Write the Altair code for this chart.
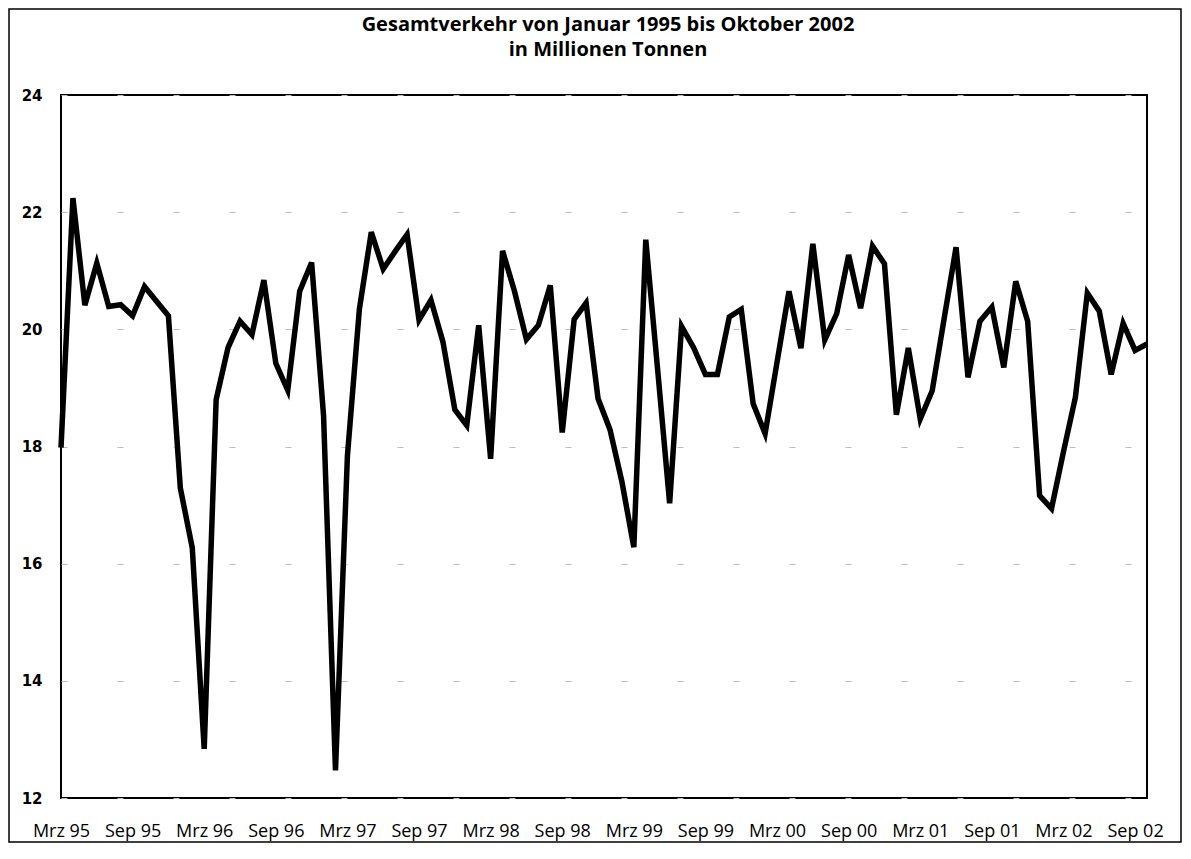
import altair as alt
import pandas as pd

# Monthly values (million tonnes), March 1995 .. October 2002
values = [17.98, 22.24, 20.41, 21.13, 20.39, 20.42, 20.23, 20.73, 20.48, 20.23,
          17.29, 16.27, 12.84, 18.80, 19.69, 20.14, 19.91, 20.84, 19.42, 18.96,
          20.65, 21.14, 18.53, 12.47, 17.84, 20.34, 21.66, 21.03, 21.33, 21.62,
          20.16, 20.50, 19.79, 18.63, 18.36, 20.07, 17.79, 21.34, 20.65, 19.83,
          20.07, 20.75, 18.24, 20.17, 20.45, 18.82, 18.29, 17.40, 16.28, 21.53,
          19.30, 17.03, 20.05, 19.69, 19.23, 19.23, 20.21, 20.34, 18.73, 18.22,
          19.44, 20.65, 19.68, 21.46, 19.82, 20.27, 21.27, 20.36, 21.42, 21.12,
          18.54, 19.68, 18.47, 18.95, 20.18, 21.40, 19.18, 20.14, 20.38, 19.35,
          20.82, 20.14, 17.16, 16.94, 17.91, 18.84, 20.62, 20.31, 19.23, 20.10,
          19.64, 19.75]

tick_labels = ["Mrz 95", "Sep 95", "Mrz 96", "Sep 96", "Mrz 97", "Sep 97",
               "Mrz 98", "Sep 98", "Mrz 99", "Sep 99", "Mrz 00", "Sep 00",
               "Mrz 01", "Sep 01", "Mrz 02", "Sep 02"]
y_ticks = [12, 14, 16, 18, 20, 22, 24]

title_lines = ["Gesamtverkehr von Januar 1995 bis Oktober 2002", "in Millionen Tonnen"]

df = pd.DataFrame({"idx": list(range(len(values))), "wert": values})
tick_pos = [i * 6 for i in range(len(tick_labels))]
label_expr = "[" + ",".join("'%s'" % t for t in tick_labels) + "][round(datum.value / 6)]"

W, H = 1086, 703

line = alt.Chart(df).mark_line(color="black", strokeWidth=5.5, strokeJoin="miter").encode(
    x=alt.X("idx:Q",
            scale=alt.Scale(domain=[0, len(values) - 1], nice=False, zero=False),
            axis=alt.Axis(values=tick_pos, labelExpr=label_expr, title=None,
                          grid=False, ticks=False, domain=False,
                          labelFont="Open Sans", labelFontSize=18, labelColor="black",
                          labelPadding=24, labelOverlap=False, labelFlush=False)),
    y=alt.Y("wert:Q",
            scale=alt.Scale(domain=[12, 24], nice=False, zero=False),
            axis=alt.Axis(values=y_ticks, title=None, ticks=False, domain=False,
                          grid=True, gridColor="#bdbdbd", gridDash=[6, 50], gridWidth=1,
                          labelFont="DejaVu Sans", labelFontSize=15, labelFontWeight="bold",
                          labelColor="black", labelPadding=19)),
)

frame = alt.Chart(pd.DataFrame({"a": [0]})).mark_rect(
    fill=None, stroke="black", strokeWidth=1.5
).encode(
    x=alt.value(-52), x2=alt.value(1120),
    y=alt.value(-86), y2=alt.value(747),
)

title_layers = []
for line_text, ypos in zip(title_lines, [-70, -45]):
    title_layers.append(
        alt.Chart(pd.DataFrame({"t": [line_text]})).mark_text(
            font="Open Sans", fontSize=20, fontWeight="bold", color="black",
            align="center", baseline="middle"
        ).encode(text="t:N", x=alt.value(W / 2 + 4), y=alt.value(ypos))
    )

chart = alt.layer(frame, line, *title_layers).properties(
    width=W, height=H,
    autosize=alt.AutoSizeParams(type="none"),
    padding={"left": 53, "top": 87, "right": 35, "bottom": 50},
).configure(background="white").configure_view(stroke="black", strokeWidth=2)

chart.save("out.html", embed_options={"renderer": "svg", "actions": False})
